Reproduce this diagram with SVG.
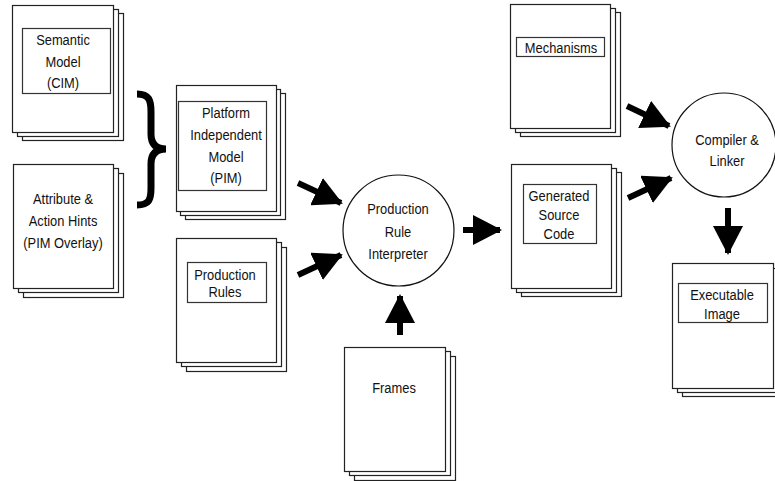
<svg xmlns="http://www.w3.org/2000/svg" width="775" height="481" viewBox="0 0 775 481">
<style>
.pg{fill:#fff;stroke:#222;stroke-width:1.2}
.ib{fill:#fff;stroke:#333;stroke-width:1.2}
.nd{fill:#fff;stroke:#111;stroke-width:1.2}
text{font-family:"Liberation Sans",Arial,sans-serif;font-size:15px;fill:#111;text-anchor:middle;transform-box:fill-box;transform-origin:center;transform:scaleX(0.86)}
.ar{stroke:#000;stroke-width:6;fill:none;marker-end:url(#hd)}
</style>
<defs>
<marker id="hd" markerUnits="userSpaceOnUse" markerWidth="29" markerHeight="30" refX="27" refY="15" orient="auto">
<path d="M0,0 L29,15 L0,30 z" fill="#000"/>
</marker>
</defs>
<g id="semantic">
<rect class="pg" x="22.5" y="13.5" width="101" height="127"/>
<rect class="pg" x="17.5" y="9.5" width="101" height="127"/>
<rect class="pg" x="12.5" y="5.5" width="101" height="127"/>
<rect class="ib" x="22.5" y="28.5" width="88" height="65"/>
<text x="63" y="45.5">Semantic</text>
<text x="63" y="67">Model</text>
<text x="63" y="88">(CIM)</text>
</g>
<g id="attribute">
<rect class="pg" x="23.5" y="173.5" width="100" height="124"/>
<rect class="pg" x="18.5" y="168.5" width="100" height="124"/>
<rect class="pg" x="13.5" y="164.5" width="100" height="124"/>
<text x="63" y="204">Attribute &amp;</text>
<text x="63" y="226">Action Hints</text>
<text x="63" y="248">(PIM Overlay)</text>
</g>
<g id="brace">
<path d="M137,94 C149,94 151,100 151,112 L151,134 C151,144 156,149 166,149 C156,149 151,154 151,164 L151,188 C151,200 149,205 137,205" fill="none" stroke="#000" stroke-width="7"/>
</g>
<g id="pim">
<rect class="pg" x="185.5" y="93.5" width="100" height="126"/>
<rect class="pg" x="180.5" y="89.5" width="100" height="126"/>
<rect class="pg" x="176.5" y="85.5" width="100" height="126"/>
<rect class="ib" x="178.5" y="101.5" width="88" height="89"/>
<text x="226" y="118.5">Platform</text>
<text x="226" y="140.5">Independent</text>
<text x="226" y="162.5">Model</text>
<text x="226" y="183.5">(PIM)</text>
</g>
<g id="rules">
<rect class="pg" x="186.5" y="247.5" width="100" height="124"/>
<rect class="pg" x="181.5" y="242.5" width="100" height="124"/>
<rect class="pg" x="176.5" y="238.5" width="100" height="124"/>
<rect class="ib" x="187.5" y="262.5" width="79" height="40"/>
<text x="225" y="280.5">Production</text>
<text x="225" y="297.5">Rules</text>
</g>
<g id="interpreter">
<circle class="nd" cx="398.5" cy="230.5" r="55.5"/>
<text x="398" y="214.5">Production</text>
<text x="398" y="237.5">Rule</text>
<text x="398" y="259.5">Interpreter</text>
</g>
<g id="frames">
<rect class="pg" x="354.5" y="356.5" width="101" height="124"/>
<rect class="pg" x="349.5" y="351.5" width="101" height="124"/>
<rect class="pg" x="344.5" y="347.5" width="101" height="124"/>
<text x="394" y="393.5">Frames</text>
</g>
<g id="mechanisms">
<rect class="pg" x="520.5" y="12.5" width="100" height="124"/>
<rect class="pg" x="515.5" y="8.5" width="100" height="124"/>
<rect class="pg" x="510.5" y="4.5" width="100" height="124"/>
<rect class="ib" x="516.5" y="37.5" width="88" height="19"/>
<text x="561" y="53.5">Mechanisms</text>
</g>
<g id="generated">
<rect class="pg" x="521.5" y="172.5" width="100" height="124"/>
<rect class="pg" x="516.5" y="168.5" width="100" height="124"/>
<rect class="pg" x="511.5" y="164.5" width="100" height="124"/>
<rect class="ib" x="523.5" y="184.5" width="73" height="59"/>
<text x="559" y="201.5">Generated</text>
<text x="559" y="220.5">Source</text>
<text x="559" y="239.5">Code</text>
</g>
<g id="compiler">
<circle class="nd" cx="724" cy="145" r="52"/>
<text x="727" y="145.5">Compiler &amp;</text>
<text x="727" y="166.5">Linker</text>
</g>
<g id="executable">
<rect class="pg" x="682.5" y="272.5" width="101" height="124"/>
<rect class="pg" x="677.5" y="268.5" width="101" height="124"/>
<rect class="pg" x="672.5" y="263.5" width="101" height="125"/>
<rect class="ib" x="678.5" y="283.5" width="89" height="39"/>
<text x="722" y="300.5">Executable</text>
<text x="722" y="319.5">Image</text>
</g>
<g id="connectors">
<line class="ar" x1="298" y1="183" x2="341" y2="203"/>
<line class="ar" x1="298" y1="275" x2="341" y2="255"/>
<line class="ar" x1="463" y1="230" x2="500" y2="230"/>
<line class="ar" x1="400" y1="335" x2="400" y2="296"/>
<line class="ar" x1="627" y1="106" x2="669" y2="126"/>
<line class="ar" x1="628" y1="198" x2="671" y2="178"/>
<line class="ar" x1="728" y1="208" x2="728" y2="253"/>
</g>
</svg>
